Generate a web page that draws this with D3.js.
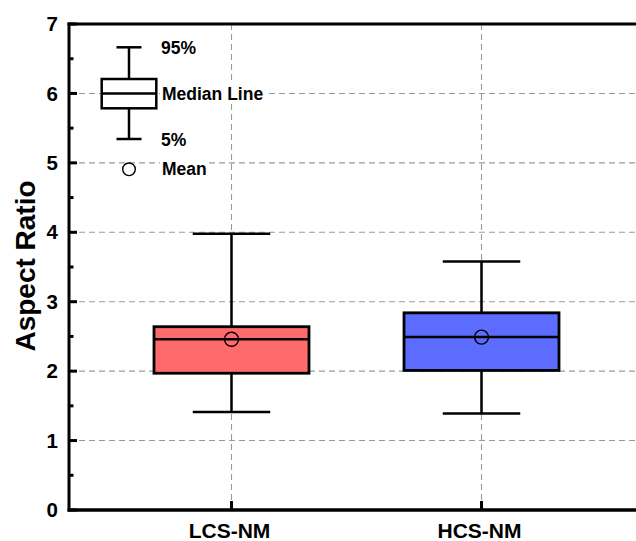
<!DOCTYPE html>
<html>
<head>
<meta charset="utf-8">
<script src="https://cdn.jsdelivr.net/npm/d3@7"></script>
<style>
  html, body { margin: 0; padding: 0; background: #fff; }
  svg { display: block; font-family: "Liberation Sans", Arial, sans-serif; font-weight: bold; }
</style>
</head>
<body>
<svg id="chart" width="636" height="541"></svg>
<script>
// ---- data ----
const categories = ["LCS-NM", "HCS-NM"];
const p5      = [1.41, 1.39];
const q1      = [1.97, 2.01];
const medians = [2.46, 2.49];
const q3      = [2.64, 2.84];
const p95     = [3.98, 3.58];
const means   = [2.46, 2.49];
const colors  = ["#FF6B6B", "#5B6CFF"];
const yTicks  = [0, 1, 2, 3, 4, 5, 6, 7];
const yMinor  = [0.5, 1.5, 2.5, 3.5, 4.5, 5.5, 6.5];
const yTitle  = "Aspect Ratio";

// ---- layout ----
const W = 636, H = 541;
const L = 69, T = 24, B = 510, R = 644;
const svg = d3.select("#chart");

const x = d3.scalePoint().domain(categories).range([L, R]).padding(0.65);
const y = d3.scaleLinear().domain([0, 7]).range([B, T]);
const step = x.step();
const boxW = step * 0.62;
const capW = boxW * 0.5;

const gridColor = "#9a9a9a";

// grid
const grid = svg.append("g");
grid.selectAll(".hg").data(yTicks.filter(d => d > 0 && d < 7)).join("line")
  .attr("x1", L).attr("x2", W).attr("y1", d => y(d)).attr("y2", d => y(d))
  .attr("stroke", gridColor).attr("stroke-width", 1.1).attr("stroke-dasharray", "6,4");
grid.selectAll(".vg").data(categories).join("line")
  .attr("x1", d => x(d)).attr("x2", d => x(d)).attr("y1", T).attr("y2", B)
  .attr("stroke", gridColor).attr("stroke-width", 1.1).attr("stroke-dasharray", "6,4");

// boxes
const idx = d3.range(categories.length);
const g = svg.append("g");
// whiskers
g.selectAll(".wu").data(idx).join("line")
  .attr("x1", i => x(categories[i])).attr("x2", i => x(categories[i]))
  .attr("y1", i => y(q3[i])).attr("y2", i => y(p95[i]))
  .attr("stroke", "#000").attr("stroke-width", 2.5);
g.selectAll(".wl").data(idx).join("line")
  .attr("x1", i => x(categories[i])).attr("x2", i => x(categories[i]))
  .attr("y1", i => y(q1[i])).attr("y2", i => y(p5[i]))
  .attr("stroke", "#000").attr("stroke-width", 2.5);
g.selectAll(".cu").data(idx).join("line")
  .attr("x1", i => x(categories[i]) - capW / 2).attr("x2", i => x(categories[i]) + capW / 2)
  .attr("y1", i => y(p95[i])).attr("y2", i => y(p95[i]))
  .attr("stroke", "#000").attr("stroke-width", 2.5);
g.selectAll(".cl").data(idx).join("line")
  .attr("x1", i => x(categories[i]) - capW / 2).attr("x2", i => x(categories[i]) + capW / 2)
  .attr("y1", i => y(p5[i])).attr("y2", i => y(p5[i]))
  .attr("stroke", "#000").attr("stroke-width", 2.5);
g.selectAll(".box").data(idx).join("rect")
  .attr("x", i => x(categories[i]) - boxW / 2).attr("width", boxW)
  .attr("y", i => y(q3[i])).attr("height", i => y(q1[i]) - y(q3[i]))
  .attr("fill", i => colors[i]).attr("stroke", "#000").attr("stroke-width", 2.8);
g.selectAll(".med").data(idx).join("line")
  .attr("x1", i => x(categories[i]) - boxW / 2).attr("x2", i => x(categories[i]) + boxW / 2)
  .attr("y1", i => y(medians[i])).attr("y2", i => y(medians[i]))
  .attr("stroke", "#000").attr("stroke-width", 2.5);
g.selectAll(".mean").data(idx).join("circle")
  .attr("cx", i => x(categories[i])).attr("cy", i => y(means[i])).attr("r", 7)
  .attr("fill", "none").attr("stroke", "#000").attr("stroke-width", 1.4);

// legend
const lg = svg.append("g");
const lx = 129;
function ltext(txt, tx, by) {
  const t = lg.append("text").attr("x", tx).attr("y", by).attr("font-size", 17.5).attr("fill", "#000").text(txt);
  const bb = t.node().getBBox();
  lg.insert("rect", "text").attr("x", bb.x - 2).attr("y", bb.y).attr("width", bb.width + 4).attr("height", bb.height).attr("fill", "#fff");
}
lg.append("line").attr("x1", lx).attr("x2", lx).attr("y1", 47.3).attr("y2", 139).attr("stroke", "#000").attr("stroke-width", 2.5);
lg.append("line").attr("x1", lx - 12.5).attr("x2", lx + 12.5).attr("y1", 47.3).attr("y2", 47.3).attr("stroke", "#000").attr("stroke-width", 2.5);
lg.append("line").attr("x1", lx - 12.5).attr("x2", lx + 12.5).attr("y1", 139).attr("y2", 139).attr("stroke", "#000").attr("stroke-width", 2.5);
lg.append("rect").attr("x", 101.7).attr("y", 79).attr("width", 54.6).attr("height", 29.3).attr("fill", "#fff").attr("stroke", "#000").attr("stroke-width", 2.5);
lg.append("line").attr("x1", 101.7).attr("x2", 156.3).attr("y1", y(6)).attr("y2", y(6)).attr("stroke", "#000").attr("stroke-width", 2.5);
lg.append("circle").attr("cx", lx).attr("cy", 169.3).attr("r", 6.3).attr("fill", "#fff").attr("stroke", "#000").attr("stroke-width", 1.4);
ltext("95%", 161, 54);
ltext("Median Line", 162, 100);
ltext("5%", 161, 146);
ltext("Mean", 162, 175);

// axes frame
const ax = svg.append("g");
ax.append("line").attr("x1", L).attr("x2", L).attr("y1", T - 1.5).attr("y2", B + 1.5).attr("stroke", "#000").attr("stroke-width", 3);
ax.append("line").attr("x1", L - 1.5).attr("x2", W).attr("y1", B).attr("y2", B).attr("stroke", "#000").attr("stroke-width", 3.5);
ax.append("line").attr("x1", L - 1.5).attr("x2", W).attr("y1", T).attr("y2", T).attr("stroke", "#000").attr("stroke-width", 3);

// y ticks
ax.selectAll(".yt").data(yTicks).join("line")
  .attr("x1", L).attr("x2", L + 8).attr("y1", d => y(d)).attr("y2", d => y(d))
  .attr("stroke", "#000").attr("stroke-width", 3);
ax.selectAll(".ym").data(yMinor).join("line")
  .attr("x1", L).attr("x2", L + 4.5).attr("y1", d => y(d)).attr("y2", d => y(d))
  .attr("stroke", "#000").attr("stroke-width", 3);
ax.selectAll(".yl").data(yTicks).join("text")
  .attr("x", 58).attr("y", d => y(d) + 7.2).attr("text-anchor", "end")
  .attr("font-size", 20.5).attr("fill", "#000").text(d => d);

// x ticks
ax.selectAll(".xt").data(categories).join("line")
  .attr("x1", d => x(d)).attr("x2", d => x(d)).attr("y1", B).attr("y2", B - 9)
  .attr("stroke", "#000").attr("stroke-width", 3);
ax.selectAll(".xl").data(categories).join("text")
  .attr("x", d => x(d) - 2).attr("y", 538.3).attr("text-anchor", "middle")
  .attr("font-size", 21).attr("fill", "#000").text(d => d);

// y title
svg.append("text").attr("transform", "translate(35,266) rotate(-90)")
  .attr("text-anchor", "middle").attr("font-size", 28).attr("fill", "#000").text(yTitle);
</script>
</body>
</html>
